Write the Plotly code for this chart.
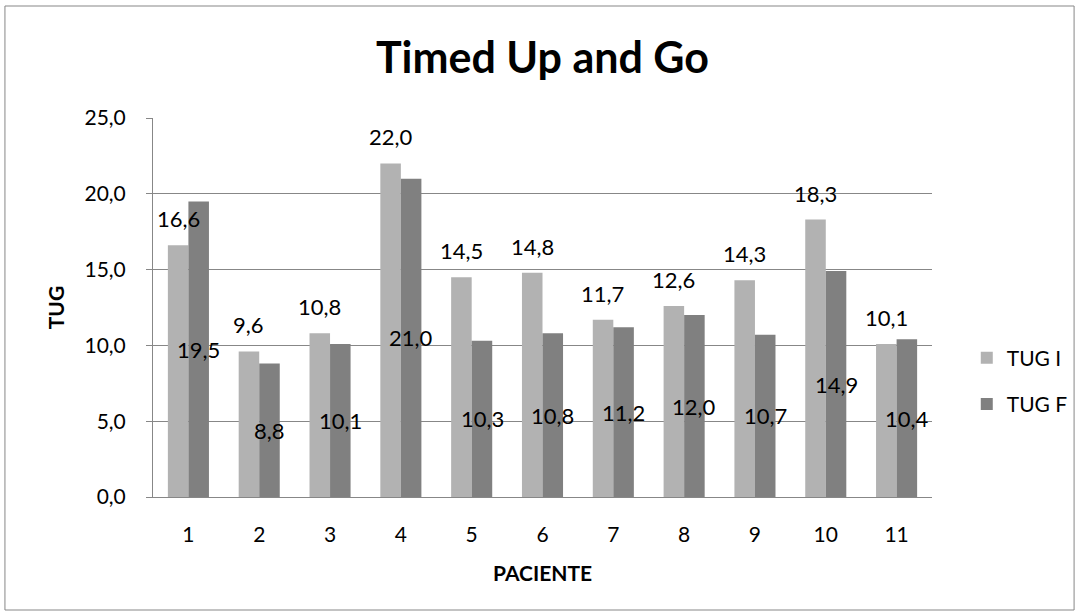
import plotly.graph_objects as go

categories = ["1", "2", "3", "4", "5", "6", "7", "8", "9", "10", "11"]
tug_i = [16.6, 9.6, 10.8, 22.0, 14.5, 14.8, 11.7, 12.6, 14.3, 18.3, 10.1]
tug_f = [19.5, 8.8, 10.1, 21.0, 10.3, 10.8, 11.2, 12.0, 10.7, 14.9, 10.4]

W, H = 1085, 615
L, R, T, B = 153, 148, 118, 118
BARGAP = 0.42
FONT = "Lato, Carlito, Calibri, sans-serif"
FS = 21
LFS = 22

fig = go.Figure()
fig.add_trace(go.Bar(
    x=categories, y=tug_i, name="TUG I", legendgroup="a",
    marker=dict(color="#B2B2B2", line=dict(width=0)),
))
fig.add_trace(go.Bar(
    x=categories, y=tug_f, name="TUG F", legendgroup="b",
    marker=dict(color="#808080", line=dict(width=0)),
))

# data labels (drawn on top of all bars); x given as category index
plot_w = W - L - R
bar_px = plot_w / len(categories) * (1 - BARGAP) / 2
for i, v in enumerate(tug_i):
    fig.add_annotation(x=i, y=v, xref="x", yref="y", text=f"{v:.1f}".replace(".", ","),
                       showarrow=False, xshift=-bar_px / 2, yanchor="bottom", yshift=11,
                       font=dict(size=LFS, color="black", family=FONT))
for i, v in enumerate(tug_f):
    fig.add_annotation(x=i, y=v / 2, xref="x", yref="y", text=f"{v:.1f}".replace(".", ","),
                       showarrow=False, xshift=bar_px / 2, yanchor="middle",
                       font=dict(size=LFS, color="black", family=FONT))

fig.update_layout(
    width=W, height=H,
    margin=dict(l=L, r=R, t=T, b=B),
    paper_bgcolor="white", plot_bgcolor="white",
    separators=",.",
    font=dict(family=FONT, size=FS, color="black"),
    barmode="group", bargap=BARGAP, bargroupgap=0,
    title=dict(text="<b>Timed Up and Go</b>", x=0.5, xanchor="center",
               y=1 - 58 / H, yanchor="middle", font=dict(size=43, family=FONT)),
    legend=dict(x=(972 - L) / plot_w, y=(497 - 381) / (H - T - B),
                xanchor="left", yanchor="middle", tracegroupgap=16,
                font=dict(size=FS, family=FONT), itemwidth=30),
    showlegend=True,
)
fig.update_yaxes(
    range=[0, 25], dtick=5, tickformat=".1f",
    showgrid=True, gridcolor="#878787", gridwidth=1,
    showline=True, linecolor="#878787", linewidth=1,
    ticks="outside", ticklen=6, tickcolor="#878787",
    ticklabelstandoff=16,
    tickfont=dict(size=FS), zeroline=False,
    title=dict(text="<b>TUG</b>", font=dict(size=FS), standoff=14),
)
fig.update_xaxes(
    type="category", range=[-0.5, len(categories) - 0.5],
    showline=True, linecolor="#878787", linewidth=1,
    ticks="", tickfont=dict(size=FS), ticklabelstandoff=19,
    title=dict(text="<b>PACIENTE</b>", font=dict(size=FS), standoff=21),
)

# chart frame
fig.add_shape(type="rect", xref="paper", yref="paper",
              x0=(4 - L) / plot_w, x1=(1080 - L) / plot_w,
              y0=(H - B - 610) / (H - T - B), y1=(H - B - 6) / (H - T - B),
              line=dict(color="#878787", width=1), fillcolor="rgba(0,0,0,0)", layer="below")

fig.write_html("out.html", config={"displayModeBar": False},
               post_script="document.body.style.margin='0';")
